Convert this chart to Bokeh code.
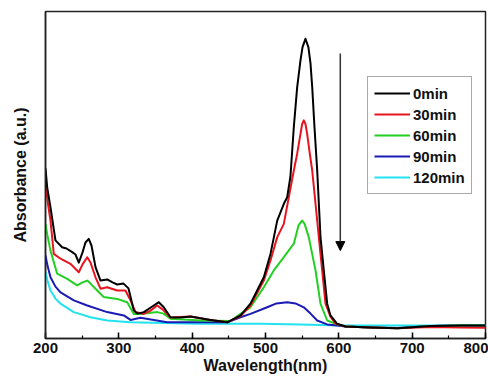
from bokeh.plotting import figure
from bokeh.models import Range1d, SingleIntervalTicker, FixedTicker, Legend, LegendItem, Arrow, NormalHead
from bokeh.embed import file_html
from bokeh.resources import INLINE

# ---- data ----
wl_0 = [200, 202.3, 206.8, 213.6, 222.7, 228.6, 236.4, 240.9, 245.4, 250.5, 254.5, 259, 262.7, 268.2, 275, 284.1,
        291.4, 297.8, 306.4, 313.2, 320.4, 325.4, 334, 347.7, 354.5, 361.3, 370.4, 384, 397.7, 425, 447.8, 466,
        479.5, 497.7, 506.8, 516, 525, 529.6, 534, 538.6, 543.2, 547.7, 550.5, 554.5, 558.5, 561.4, 563.7, 566.8,
        570.5, 575, 579.5, 584.1, 588.6, 597.7, 609, 643, 680, 725, 766, 800]
abs_0 = [0.567, 0.504, 0.437, 0.327, 0.304, 0.300, 0.288, 0.280, 0.253, 0.287, 0.320, 0.332, 0.310, 0.238, 0.193,
         0.197, 0.187, 0.180, 0.183, 0.167, 0.093, 0.083, 0.088, 0.110, 0.121, 0.104, 0.071, 0.070, 0.073, 0.062,
         0.054, 0.077, 0.116, 0.204, 0.282, 0.393, 0.449, 0.471, 0.540, 0.704, 0.838, 0.927, 0.971, 0.999, 0.971,
         0.916, 0.838, 0.704, 0.560, 0.338, 0.227, 0.116, 0.077, 0.049, 0.040, 0.037, 0.034, 0.042, 0.043, 0.043]

wl_30 = [200, 202.7, 206.8, 211.3, 220.5, 234, 245.4, 250.5, 256.9, 261.4, 268.2, 275, 284.1, 297.8, 309, 315.9,
         322.7, 334, 343.2, 352.3, 359.5, 370.4, 397.7, 425, 447.8, 466, 479.5, 497.7, 506.8, 516, 525, 538.6,
         543.2, 547.7, 550, 552.2, 554.5, 556.8, 560.4, 563.7, 575, 581.8, 588.6, 595.4, 609, 643, 680, 725, 766, 800]
abs_30 = [0.521, 0.460, 0.393, 0.282, 0.266, 0.249, 0.221, 0.247, 0.271, 0.253, 0.204, 0.166, 0.171, 0.160, 0.160,
          0.127, 0.088, 0.082, 0.093, 0.110, 0.097, 0.070, 0.073, 0.062, 0.054, 0.075, 0.110, 0.193, 0.260, 0.338,
          0.382, 0.560, 0.616, 0.682, 0.715, 0.727, 0.715, 0.682, 0.616, 0.560, 0.282, 0.116, 0.073, 0.049, 0.040,
          0.037, 0.034, 0.038, 0.037, 0.036]

wl_60 = [200, 202.7, 206.8, 215.9, 229.6, 243.2, 250.5, 256.9, 261.4, 270.5, 279.5, 297.8, 311.4, 320.4, 329.5,
         352.3, 361, 370.4, 411.4, 452.3, 465.9, 479.5, 497.7, 511.3, 525, 538.6, 545, 549.8, 553.2, 559, 568.2,
         575, 584.1, 597.7, 609, 643, 680, 725, 766, 800]
abs_60 = [0.382, 0.343, 0.293, 0.216, 0.199, 0.177, 0.187, 0.193, 0.183, 0.160, 0.138, 0.132, 0.121, 0.082, 0.082,
          0.088, 0.083, 0.066, 0.060, 0.058, 0.082, 0.104, 0.171, 0.227, 0.271, 0.316, 0.377, 0.393, 0.383, 0.338,
          0.227, 0.116, 0.060, 0.047, 0.040, 0.037, 0.034, 0.042, 0.043, 0.043]

wl_90 = [200, 202.7, 206.8, 213.6, 220.5, 238.6, 256.9, 284.1, 306.8, 315.9, 329.5, 365.9, 447.8, 465.9, 479.5,
         502.3, 515, 529.6, 540.9, 552.2, 561.4, 570.5, 584.1, 597.7, 609, 643, 680, 725, 766, 800]
abs_90 = [0.277, 0.243, 0.204, 0.173, 0.154, 0.127, 0.110, 0.088, 0.077, 0.062, 0.069, 0.054, 0.054, 0.071, 0.082,
          0.104, 0.117, 0.121, 0.117, 0.104, 0.083, 0.060, 0.047, 0.043, 0.040, 0.037, 0.035, 0.042, 0.043, 0.043]

wl_120 = [200, 202.7, 206.8, 213.6, 220.5, 238.6, 261.4, 284.1, 315.9, 406.8, 493.2, 547.7, 602.3, 684, 800]
abs_120 = [0.221, 0.193, 0.160, 0.133, 0.116, 0.088, 0.071, 0.060, 0.054, 0.049, 0.049, 0.047, 0.043, 0.043, 0.043]

series_labels = ["0min", "30min", "60min", "90min", "120min"]
series_colors = ["#000000", "#e8141e", "#22d022", "#1a1ab4", "#22e2f0"]

x_ticks_interval = 100
arrow_x = 602
arrow_y_start = 0.95
arrow_y_end = 0.293

# ---- figure ----
FONT = "Liberation Sans"
p = figure(width=488, height=383, output_backend="svg", toolbar_location=None,
           x_range=Range1d(200, 800), y_range=Range1d(0, 1.09),
           min_border_left=45, min_border_right=3, min_border_top=11, min_border_bottom=45)
p.xgrid.visible = False
p.ygrid.visible = False
p.outline_line_color = "#222222"
p.outline_line_width = 1.5
p.background_fill_color = "white"
p.border_fill_color = "white"

xa = p.xaxis[0]
xa.ticker = SingleIntervalTicker(interval=x_ticks_interval, num_minor_ticks=2)
xa.major_tick_in = 6
xa.major_tick_out = 0
xa.minor_tick_in = 3
xa.minor_tick_out = 0
xa.major_tick_line_width = 1.5
xa.minor_tick_line_width = 1.2
xa.axis_line_width = 1.5
xa.axis_line_color = "#222222"
xa.major_label_text_font = FONT
xa.major_label_text_font_style = "bold"
xa.major_label_text_font_size = "15px"
xa.major_label_text_color = "#111111"
xa.major_label_standoff = 4
xa.axis_label = "Wavelength(nm)"
xa.axis_label_text_font = FONT
xa.axis_label_text_font_style = "bold"
xa.axis_label_text_font_size = "16px"
xa.axis_label_text_color = "#111111"
xa.axis_label_standoff = 1

ya = p.yaxis[0]
ya.ticker = FixedTicker(ticks=[])
ya.major_tick_out = 0
ya.major_tick_in = 0
ya.minor_tick_out = 0
ya.major_label_standoff = 0
ya.axis_line_width = 1.5
ya.axis_line_color = "#222222"
ya.axis_label = "Absorbance (a.u.)"
ya.axis_label_text_font = FONT
ya.axis_label_text_font_style = "bold"
ya.axis_label_text_font_size = "16px"
ya.axis_label_text_color = "#111111"
ya.axis_label_standoff = 17

wls = [wl_0, wl_30, wl_60, wl_90, wl_120]
abss = [abs_0, abs_30, abs_60, abs_90, abs_120]
renderers = []
for wl, ab, col in zip(wls[::-1], abss[::-1], series_colors[::-1]):
    r = p.line(wl, ab, line_color=col, line_width=2, line_join="round")
    renderers.append(r)
renderers = renderers[::-1]

items = [LegendItem(label=lab, renderers=[r]) for lab, r in zip(series_labels, renderers)]
legend = Legend(items=items, location=(322, 144))
legend.label_text_font = FONT
legend.label_text_font_style = "bold"
legend.label_text_font_size = "15px"
legend.label_text_color = "#111111"
legend.glyph_width = 36
legend.glyph_height = 20
legend.label_height = 20
legend.spacing = 1
legend.padding = 6
legend.margin = 0
legend.label_standoff = 3
legend.border_line_color = "#555555"
legend.border_line_width = 1
legend.background_fill_alpha = 1
p.add_layout(legend)

p.add_layout(Arrow(end=NormalHead(size=9, fill_color="black", line_color="black"),
                   x_start=arrow_x, y_start=arrow_y_start, x_end=arrow_x, y_end=arrow_y_end,
                   line_color="#333333", line_width=1.5))

open("out.html", "w").write(file_html(p, INLINE))
